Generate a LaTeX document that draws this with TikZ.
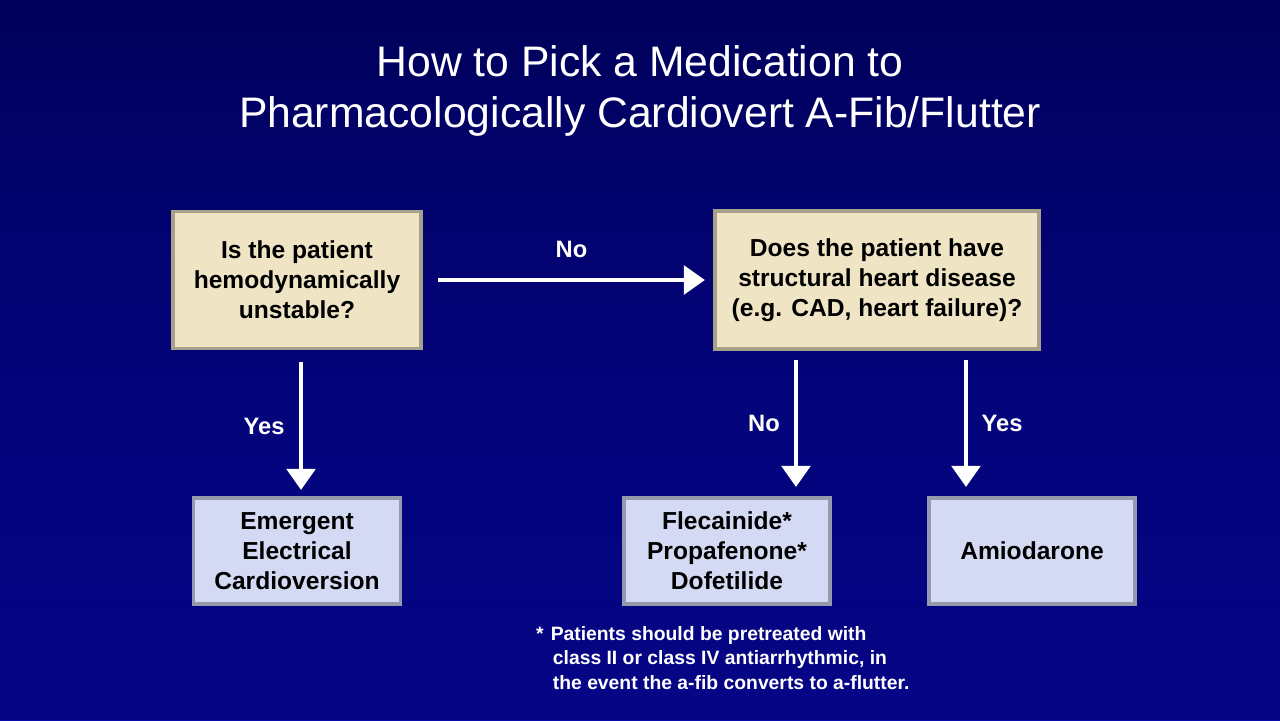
\documentclass[tikz,border=0pt]{standalone}
\usepackage{fontspec}
\setmainfont{Liberation Sans}
\usetikzlibrary{arrows.meta,fadings}
\definecolor{bgdark}{HTML}{00005A}
\definecolor{bglight}{HTML}{0A0AAA}
\definecolor{quest}{HTML}{EFE5C5}
\definecolor{answ}{HTML}{D5DAF4}
\tikzset{
  qbox/.style={draw=quest!70!black, line width=2pt, fill=quest, align=center,
    font=\bfseries\fontsize{14}{17}\selectfont, inner sep=0pt},
  abox/.style={draw=answ!70!black, line width=2pt, fill=answ, align=center,
    font=\bfseries\fontsize{14}{17}\selectfont, inner sep=0pt},
  flow/.style={white, line width=2.8pt, -{Triangle[width=16pt,length=12pt]}},
  lbl/.style={white, font=\bfseries\fontsize{13.5}{15}\selectfont}
}
\begin{document}
\begin{tikzpicture}[x=0.02cm,y=-0.02cm]
\shade[left color=bgdark, right color=bglight, shading angle=0] (0,0) rectangle (1280,720);
\fill[bgdark, opacity=0.45, path fading=north] (0,0) rectangle (1280,720);
\useasboundingbox (0,0) rectangle (1280,720);

% title
\node[white, align=center, font=\fontsize{24.3}{29}\selectfont] (title) at (640,91)
  {How to Pick a Medication to\\Pharmacologically Cardiovert A-Fib/Flutter};

% questions
\node[qbox, minimum width=248*0.02cm, minimum height=137*0.02cm] (unstable) at (297,280)
  {Is the patient\\hemodynamically\\unstable?};
\node[qbox, minimum width=324*0.02cm, minimum height=138*0.02cm] (shd) at (877,280)
  {Does the patient have\\structural heart disease\\(e.g. CAD, heart failure)?};

% answers
\node[abox, minimum width=207*0.02cm, minimum height=106*0.02cm] (ecv) at (297,551)
  {Emergent\\Electrical\\Cardioversion};
\node[abox, minimum width=206*0.02cm, minimum height=106*0.02cm] (ic) at (727,551)
  {Flecainide*\\Propafenone*\\Dofetilide};
\node[abox, minimum width=206*0.02cm, minimum height=106*0.02cm] (amio) at (1032,551)
  {Amiodarone};

% connectors
\coordinate (a1s) at (438,280); \coordinate (a1e) at (705,280);
\draw[flow] (a1s) -- (a1e) node[lbl, midway, above=8pt] {No};
\coordinate (a2s) at (301,362); \coordinate (a2e) at (301,490);
\draw[flow] (a2s) -- (a2e);
\node[lbl] (yes1) at (264,426) {Yes};
\coordinate (a3s) at (796,360); \coordinate (a3e) at (796,487);
\draw[flow] (a3s) -- (a3e);
\node[lbl] (no2) at (764,423) {No};
\coordinate (a4s) at (966,360); \coordinate (a4e) at (966,487);
\draw[flow] (a4s) -- (a4e);
\node[lbl] (yes2) at (1002,423) {Yes};

% footnote
\node[white, anchor=north west, align=left, font=\bfseries\fontsize{11}{14}\selectfont] (note) at (530,620)
  {*\hspace{4pt}Patients should be pretreated with\\
   \hspace{9.5pt}class II or class IV antiarrhythmic, in\\
   \hspace{9.5pt}the event the a-fib converts to a-flutter.};
\end{tikzpicture}
\end{document}
